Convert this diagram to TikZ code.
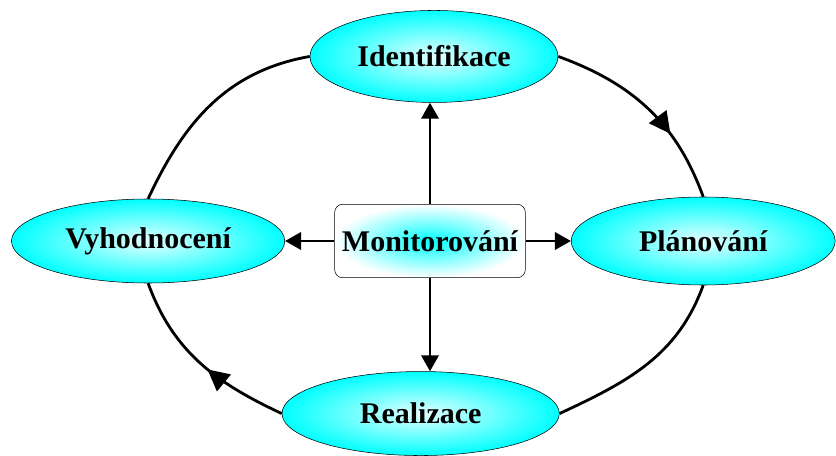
\documentclass[tikz,border=0pt]{standalone}
\usepackage{fontspec}
\setmainfont{Liberation Serif}
\usetikzlibrary{arrows.meta,positioning,shapes.geometric,decorations.markings}

\begin{document}
\begin{tikzpicture}[
  phase/.style={draw,thin,ellipse,inner sep=0pt,shade,inner color=cyan!10,
    outer color=cyan,font=\fontsize{22.5}{27}\selectfont\bfseries},
  hub/.style={draw,thin,rounded corners=6pt,shade,inner color=cyan,
    outer color=white,minimum width=143pt,minimum height=55pt,inner sep=0pt,
    font=\fontsize{22.5}{27}\selectfont\bfseries},
  arrow/.style={-{Triangle[length=12pt,width=13pt]},line width=2.1pt},
  link/.style={line width=2.1pt},
  loopline/.style={link,postaction={decorate},decoration={markings,
    mark=at position #1 with {\arrow{Triangle[length=16pt,width=16pt]}}}}
]
\useasboundingbox (0,0) rectangle (627pt,-342pt);
\node[hub] (monitor) at (322.5pt,-180.75pt) {Monitorování};
\node[phase,minimum width=186pt,minimum height=69pt,above=76pt of monitor,
  xshift=3pt] (ident) {Identifikace};
\node[phase,minimum width=198pt,minimum height=66pt,right=34pt of monitor]
  (plan) {Plánování};
\node[phase,minimum width=208pt,minimum height=63pt,below=70pt of monitor,
  xshift=-7pt] (real) {Realizace};
\node[phase,minimum width=205pt,minimum height=63pt,left=37pt of monitor]
  (eval) {Vyhodnocení};
% spokes from the centre
\draw[arrow] (monitor.north) -- (monitor.north |- ident.south);
\draw[arrow] (monitor.south) -- (monitor.south |- real.north);
\draw[arrow] (monitor.west) -- (eval.east);
\draw[arrow] (monitor.east) -- (plan.west);
% outer cycle
\draw[loopline=0.66] (ident.east) to[out=-20,in=110] (plan.north);
\draw[link] (plan.south) to[out=-110,in=25] (real.east);
\draw[loopline=0.45] (real.west) to[out=155,in=-70] (eval.south);
\draw[link] (eval.north) to[out=65,in=190] (ident.west);
\end{tikzpicture}
\end{document}
